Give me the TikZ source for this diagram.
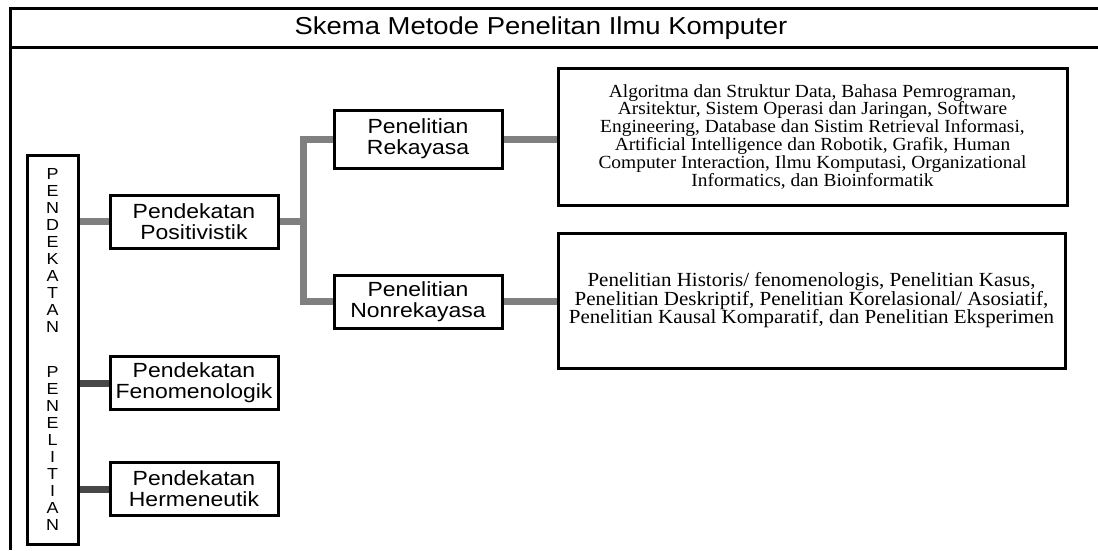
\documentclass[tikz,border=0pt]{standalone}
\usepackage{fontspec}
\newfontfamily\boxfont{Liberation Sans}[FakeStretch=1.12]
\newfontfamily\listfont{Liberation Serif}[FakeStretch=1.05]
\definecolor{linkgray}{RGB}{128,128,128}
\definecolor{linkdark}{RGB}{72,72,72}

\begin{document}
\begin{tikzpicture}[x=1pt, y=-1pt, line width=3pt,
  main node/.style={rectangle,draw,minimum width=168pt,minimum height=53pt,inner sep=0pt,align=center,font=\boxfont\fontsize{20.5}{21}\selectfont},
  list node/.style={rectangle,draw,inner sep=0pt,align=center,font=\listfont\fontsize{18.5}{17.8}\selectfont},
  link/.style={linkgray,line width=7pt},
  dark link/.style={linkdark,line width=7pt}]
\useasboundingbox (0,0) rectangle (1098,550);

\draw (1098,8) -- (10,8) -- (10,550);
\draw (10,47) -- (1098,47);
\node [font=\boxfont\fontsize{24.5}{25}\selectfont] (title) at (541,28) {Skema Metode Penelitan Ilmu Komputer};

\node [draw,minimum width=51pt,minimum height=389pt,inner sep=0pt,align=center,font=\boxfont\fontsize{16}{17}\selectfont] (stack) at (52.5,349.5)
  {P\\E\\N\\D\\E\\K\\A\\T\\A\\N\\[28pt]P\\E\\N\\E\\L\\I\\T\\I\\A\\N};

\node [main node] (pos) at (194,221.5) {Pendekatan\\Positivistik};
\node [main node] (fen) at (194,383) {Pendekatan\\Fenomenologik};
\node [main node] (her) at (194,489) {Pendekatan\\Hermeneutik};
\node [main node,minimum height=58pt] (rek) at (418,139) {Penelitian\\Rekayasa};
\node [main node] (non) at (418,301.5) {Penelitian\\Nonrekayasa};

\node [list node,minimum width=509pt,minimum height=137pt] (alg) at (812.5,136.5)
  {Algoritma dan Struktur Data, Bahasa Pemrograman,\\
   Arsitektur, Sistem Operasi dan Jaringan, Software\\
   Engineering, Database dan Sistim Retrieval Informasi,\\
   Artificial Intelligence dan Robotik, Grafik, Human\\
   Computer Interaction, Ilmu Komputasi, Organizational\\
   Informatics, dan Bioinformatik};
\node [list node,minimum width=507pt,minimum height=135pt,font=\listfont\fontsize{20}{18.5}\selectfont] (kin) at (811.5,300.5)
  {Penelitian Historis/ fenomenologis, Penelitian Kasus,\\
   Penelitian Deskriptif, Penelitian Korelasional/ Asosiatif,\\
   Penelitian Kausal Komparatif, dan Penelitian Eksperimen};

\draw [link] (stack.east |- pos.west) -- (pos.west);
\draw [dark link] (stack.east |- fen.west) -- (fen.west);
\draw [dark link] (stack.east |- her.west) -- (her.west);
\draw [link] (pos.east) -- ++(24,0) coordinate (fork);
\draw [link] (rek.west) -| (fork) |- (non.west);
\draw [link] (rek.east) -- (rek.east -| alg.west);
\draw [link] (non.east) -- (non.east -| kin.west);
\end{tikzpicture}
\end{document}
